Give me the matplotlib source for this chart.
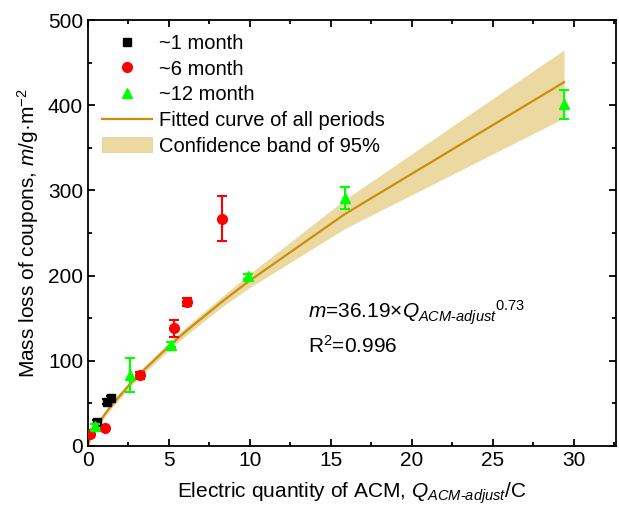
import matplotlib
matplotlib.use("Agg")
import matplotlib.pyplot as plt
from matplotlib.patches import Patch
from matplotlib.lines import Line2D
from matplotlib.ticker import MultipleLocator

plt.rcParams['font.family'] = ['Liberation Sans', 'DejaVu Sans']
plt.rcParams['mathtext.fontset'] = 'custom'
plt.rcParams['mathtext.rm'] = 'Liberation Sans'
plt.rcParams['mathtext.it'] = 'Liberation Sans:italic'

# data
x_1m = [0.55, 1.15, 1.45]
y_1m = [28, 52, 56]
e_1m = [2, 3, 3]

x_6m = [0.15, 1.05, 3.2, 5.33, 6.09, 8.25]
y_6m = [14, 21, 83, 138, 169, 267]
e_6m = [3, 3, 4, 10, 5, 26]

x_12m = [0.45, 2.6, 5.1, 9.9, 15.86, 29.4]
y_12m = [23, 83, 119, 199, 291, 401]
e_12m = [3, 20, 3, 3, 13, 17]

fit_x = [0, 0.15, 0.45, 1.05, 1.45, 2.6, 3.2, 5.1, 6.09, 8.25, 9.9, 15.86, 29.4]
fit_y = [0, 9.1, 20.2, 37.5, 47.5, 72.7, 84.6, 118.9, 135.3, 168.9, 192.9, 272.2, 427.1]
band_lo = [0, 7.6, 17.7, 34.5, 44, 68.7, 80.6, 114.4, 130.3, 162.9, 184.9, 255.2, 385]
band_hi = [0, 10.6, 22.7, 40.5, 51, 76.7, 88.6, 123.4, 140.3, 174.9, 200.9, 289.2, 465]

line_c = '#C98F0C'
band_c = '#ECD9A2'

fig = plt.figure(figsize=(6.19, 5.15), dpi=100)
ax = fig.add_axes([0.142, 0.134, 0.853, 0.827])

ax.fill_between(fit_x, band_lo, band_hi, color=band_c, lw=0, zorder=1)
ax.plot(fit_x, fit_y, color=line_c, lw=1.6, zorder=2)

ax.errorbar(x_1m, y_1m, yerr=e_1m, fmt='s', color='black', ms=6, capsize=3.5, elinewidth=1.5, capthick=1.5, zorder=3)
ax.errorbar(x_6m, y_6m, yerr=e_6m, fmt='o', color='#FF0000', ms=7, capsize=3.5, elinewidth=1.5, capthick=1.5, zorder=3)
ax.errorbar(x_12m, y_12m, yerr=e_12m, fmt='^', color='#00FF00', ms=7, capsize=3.5, elinewidth=1.5, capthick=1.5, zorder=4)

ax.set_xlim(0, 32.6)
ax.set_ylim(0, 500)
ax.xaxis.set_major_locator(MultipleLocator(5))
ax.xaxis.set_minor_locator(MultipleLocator(2.5))
ax.yaxis.set_major_locator(MultipleLocator(100))
ax.yaxis.set_minor_locator(MultipleLocator(50))
ax.tick_params(which='both', direction='in', top=True, right=True, width=1.3)
ax.tick_params(which='major', length=5, labelsize=15)
ax.tick_params(which='minor', length=3)
for s in ax.spines.values():
    s.set_linewidth(1.3)

ax.set_xlabel('Electric quantity of ACM, $Q_{\\mathit{ACM‐adjust}}$/C', fontsize=15, labelpad=8)
ax.set_ylabel('Mass loss of coupons, $m$/g·m$^{-2}$', fontsize=15, labelpad=5)

ax.text(13.6, 150, '$m$=36.19×$Q_{\\mathit{ACM‐adjust}}$$^{0.73}$', fontsize=15)
ax.text(13.6, 109, 'R$^{2}$=0.996', fontsize=15)

handles = [
    Line2D([], [], marker='s', color='black', ls='none', ms=6),
    Line2D([], [], marker='o', color='#FF0000', ls='none', ms=7),
    Line2D([], [], marker='^', color='#00FF00', ls='none', ms=7),
    Line2D([], [], color=line_c, lw=1.6),
    Patch(facecolor=band_c, edgecolor='#E0CB8E', lw=0.5),
]
labels = ['~1 month', '~6 month', '~12 month', 'Fitted curve of all periods', 'Confidence band of 95%']
ax.legend(handles, labels, loc='upper left', bbox_to_anchor=(0.0, 1.0), frameon=False,
          fontsize=14.5, handlelength=2.5, handleheight=0.8, handletextpad=0.35,
          labelspacing=0.33, borderaxespad=0.3)

fig.savefig('out.png', dpi=100)
